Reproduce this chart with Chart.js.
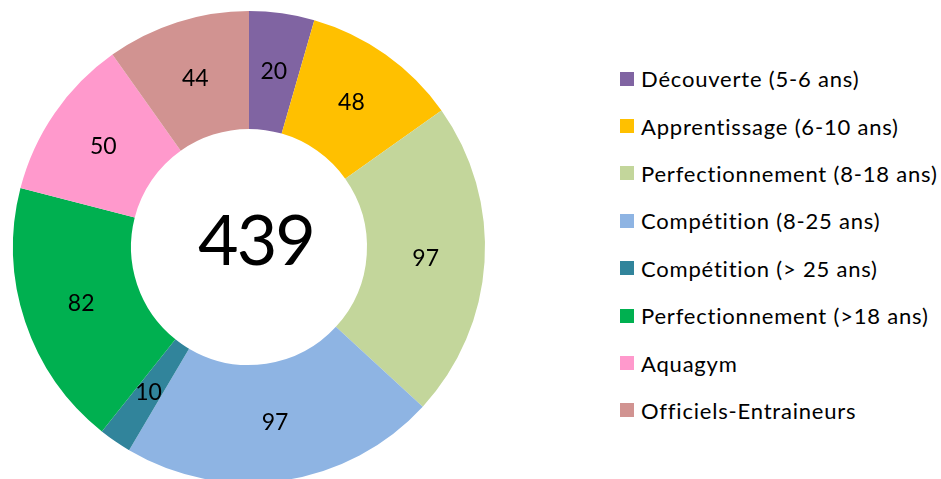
<!DOCTYPE html>
<html>
<head>
<meta charset="utf-8">
<script src="https://cdn.jsdelivr.net/npm/chart.js@4.4.1/dist/chart.umd.min.js"></script>
<style>
    html, body { margin: 0; padding: 0; background: #fff; overflow: hidden; }
    body { width: 941px; height: 479px; position: relative; font-family: Lato, "Open Sans", sans-serif; }
    #chartBox { position: absolute; left: 0; top: -2px; width: 498px; height: 498px; }
    #legend { position: absolute; left: 620px; top: 55px; margin: 0; padding: 0; list-style: none; }
    #legend li { height: 47.4px; display: flex; align-items: center; font-size: 22px; letter-spacing: 0.8px; color: #000; white-space: nowrap; }
    #legend span.box { display: inline-block; width: 14px; height: 14px; margin-right: 7px; }
</style>
</head>
<body>
<div id="chartBox"><canvas id="donut"></canvas></div>
<ul id="legend"></ul>
<script>
const categories = [
    'Découverte (5-6 ans)',
    'Apprentissage (6-10 ans)',
    'Perfectionnement (8-18 ans)',
    'Compétition (8-25 ans)',
    'Compétition (> 25 ans)',
    'Perfectionnement (>18 ans)',
    'Aquagym',
    'Officiels-Entraineurs'
];
const members = [20, 48, 97, 97, 10, 82, 50, 44];
const totalLabel = '439';
const sliceColors = ['#8064A2', '#FFC000', '#C3D69B', '#8EB4E3', '#31849B', '#00B050', '#FF99CC', '#D19391'];

document.addEventListener('DOMContentLoaded', function() {
    const legend = document.getElementById('legend');
    categories.forEach((name, i) => {
        const li = document.createElement('li');
        const box = document.createElement('span');
        box.className = 'box';
        box.style.background = sliceColors[i];
        li.appendChild(box);
        li.appendChild(document.createTextNode(name));
        legend.appendChild(li);
    });

    // values inside the ring + the big number in the hole
    const labelsPlugin = {
        id: 'ringLabels',
        afterDatasetsDraw(chart) {
            const ctx = chart.ctx;
            const meta = chart.getDatasetMeta(0);
            ctx.save();
            ctx.fillStyle = '#000';
            ctx.textAlign = 'center';
            ctx.textBaseline = 'middle';
            ctx.font = '23px Lato, "Open Sans", sans-serif';
            meta.data.forEach((arc, i) => {
                const pos = arc.tooltipPosition();
                ctx.fillText(String(members[i]), pos.x, pos.y);
            });
            const first = meta.data[0];
            ctx.font = '70px Lato, "Open Sans", sans-serif';
            ctx.letterSpacing = '-2px';
            ctx.fillText(totalLabel, first.x + 7, first.y - 5);
            ctx.restore();
        }
    };

    new Chart(document.getElementById('donut').getContext('2d'), {
        type: 'doughnut',
        data: {
            labels: categories,
            datasets: [{
                data: members,
                backgroundColor: sliceColors,
                borderWidth: 0
            }]
        },
        options: {
            responsive: true,
            maintainAspectRatio: false,
            animation: false,
            cutout: '50%',
            layout: { padding: 13 },
            plugins: {
                legend: { display: false },
                tooltip: { enabled: false }
            }
        },
        plugins: [labelsPlugin]
    });
});
</script>
</body>
</html>
